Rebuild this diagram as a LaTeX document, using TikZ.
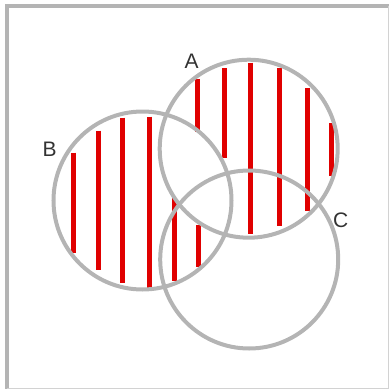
\documentclass[tikz,border=0pt]{standalone}
\usepackage{fontspec}
\setmainfont{Liberation Sans}
\usepackage{tikz}

\definecolor{ringgray}{HTML}{B4B4B4}
\definecolor{hatchred}{HTML}{E00000}
\definecolor{labelgray}{HTML}{333333}

\begin{document}
\begin{tikzpicture}[x=1pt, y=-1pt,
    setring/.style={draw=ringgray, line width=4pt, circle, minimum size=178pt, inner sep=0pt},
    setlabel/.style={text=labelgray, inner sep=0pt, font=\fontsize{21}{25}\selectfont},
    hatch/.style={draw=hatchred, line width=5pt}]
    \useasboundingbox (0,0) rectangle (389,389);
    % frame
    \draw[ringgray, line width=4pt] (7,389) -- (7,6) -- (389,6);
    \draw[ringgray!60, line width=1pt] (388.5,6) -- (388.5,388) -- (7,388);
    % hatching of B without A
    \draw[hatch] (73.3,152.7) -- (73.3,253.3);
    \draw[hatch] (98.3,130.7) -- (98.3,270);
    \draw[hatch] (122,117.7) -- (122,282.7);
    \draw[hatch] (149.7,116.7) -- (149.7,287.7);
    \draw[hatch] (174,198.3) -- (174,281);
    \draw[hatch] (198,225) -- (198,267.3);
    % hatching of A without B
    \draw[hatch] (197.7,79.3) -- (197.7,131.7);
    \draw[hatch] (224,68.3) -- (224,158.3);
    \draw[hatch] (250,62.7) -- (250,234.3);
    \draw[hatch] (279.3,68.3) -- (279.3,226);
    \draw[hatch] (307,87.7) -- (307,210.7);
    \draw[hatch] (331,123.3) -- (331,176);
    % sets
    \node[setring] (A) at (248.7,148.7) {};
    \node[setring] (B) at (142.5,200.5) {};
    \node[setring] (C) at (249.2,259.5) {};
    \node[setlabel] (labA) at (191.7,61.3) {A};
    \node[setlabel] (labB) at (49.7,149.5) {B};
    \node[setlabel] (labC) at (340.7,220.5) {C};
\end{tikzpicture}
\end{document}
